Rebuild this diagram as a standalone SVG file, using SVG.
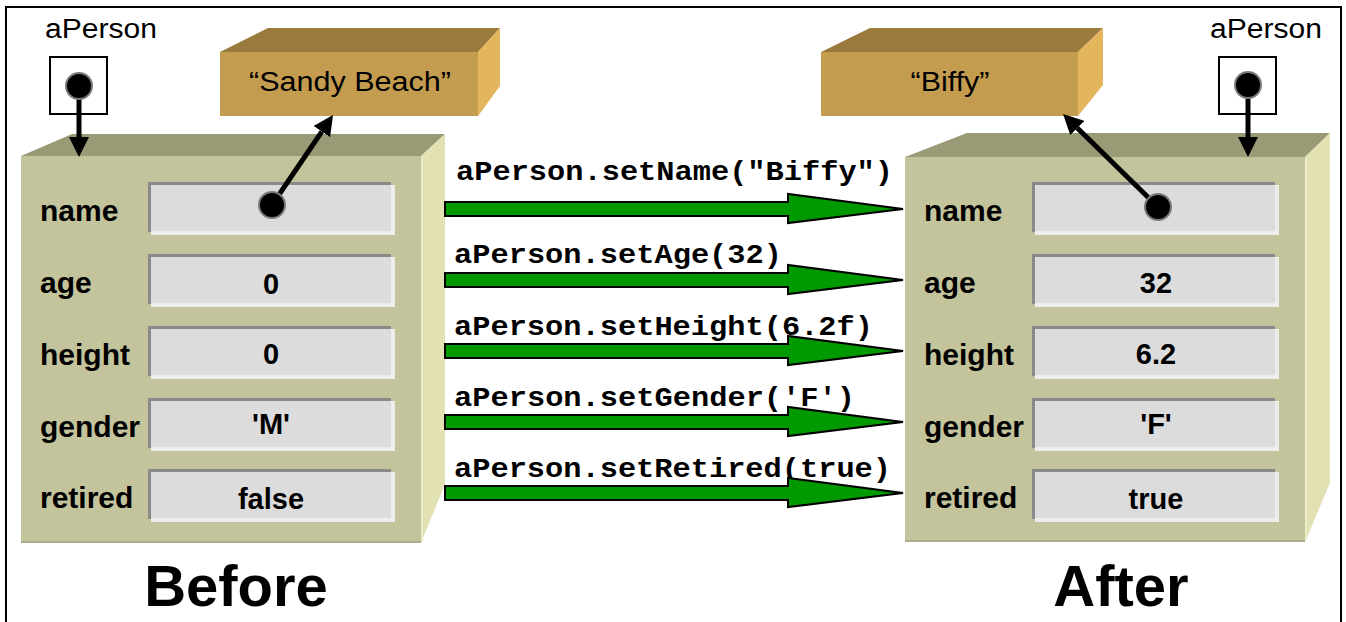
<svg xmlns="http://www.w3.org/2000/svg" width="1346" height="622" viewBox="0 0 1346 622">
<style>
.front{fill:#C3C39C}
.top{fill:#9A9A77}
.side{fill:#E1E1B4}
.tfront{fill:#C49C4F}
.ttop{fill:#9B7A3D}
.tside{fill:#E3B55C}
.lbl{font-family:"Liberation Sans",Arial,sans-serif;font-weight:bold;font-size:30px;fill:#000}
.val{font-family:"Liberation Sans",Arial,sans-serif;font-weight:bold;font-size:29px;fill:#000;text-anchor:middle}
.plain{font-family:"Liberation Sans",Arial,sans-serif;font-size:27px;fill:#000}
.code{font-family:"Liberation Mono","Courier New",monospace;font-weight:bold;font-size:28px;fill:#000}
.big{font-family:"Liberation Sans",Arial,sans-serif;font-weight:bold;font-size:58px;fill:#000;text-anchor:middle}
.vb1{fill:#8A8A8A}
.vb2{fill:#EDEDED}
.vb3{fill:#DCDCDC}
.ptr{stroke:#000;stroke-width:5;fill:none}
.dot{fill:#000;stroke:#7a7a7a;stroke-width:2}
.garrow{fill:#009900;stroke:#000;stroke-width:2;stroke-linejoin:miter}
</style>
<defs>
<marker id="ah" viewBox="0 0 20 20" refX="0" refY="10" markerWidth="20" markerHeight="20" markerUnits="userSpaceOnUse" orient="auto">
<path d="M0,0 L20,10 L0,20 z" fill="#000"/>
</marker>
<g id="vbox">
<rect class="vb1" x="0" y="0" width="243" height="50"/>
<rect class="vb2" x="3" y="3" width="244" height="50"/>
<rect class="vb3" x="3" y="3" width="240" height="46"/>
</g>
</defs>
<rect x="6" y="7" width="1335" height="620" fill="#fff" stroke="#000" stroke-width="2"/>

<g id="before-object">
<polygon class="top" points="21,156 72,134 445,134 421,156"/>
<polygon class="side" points="421,156 445,134 445,484 421,543"/>
<rect class="front" x="21" y="156" width="400" height="387"/>
<line x1="21" y1="542" x2="421" y2="542" stroke="#ADAD8B" stroke-width="2"/>
<line x1="422" y1="157" x2="422" y2="541" stroke="#ECECC6" stroke-width="2"/>
<use href="#vbox" x="148" y="182"/>
<use href="#vbox" x="148" y="254"/>
<use href="#vbox" x="148" y="326"/>
<use href="#vbox" x="148" y="398"/>
<use href="#vbox" x="148" y="469"/>
<text class="lbl" x="40" y="221">name</text>
<text class="lbl" x="40" y="293">age</text>
<text class="lbl" x="40" y="365">height</text>
<text class="lbl" x="40" y="437">gender</text>
<text class="lbl" x="40" y="508">retired</text>
<text class="val" x="271" y="294">0</text>
<text class="val" x="271" y="364">0</text>
<text class="val" x="271" y="434">'M'</text>
<text class="val" x="271" y="509">false</text>
</g>

<g id="after-object">
<polygon class="top" points="905,157 967,133 1330,133 1305,157"/>
<polygon class="side" points="1305,157 1330,133 1330,483 1305,542"/>
<rect class="front" x="905" y="157" width="400" height="385"/>
<line x1="905" y1="541" x2="1305" y2="541" stroke="#ADAD8B" stroke-width="2"/>
<line x1="1306" y1="158" x2="1306" y2="540" stroke="#ECECC6" stroke-width="2"/>
<use href="#vbox" x="1032" y="182"/>
<use href="#vbox" x="1032" y="254"/>
<use href="#vbox" x="1032" y="326"/>
<use href="#vbox" x="1032" y="398"/>
<use href="#vbox" x="1032" y="469"/>
<text class="lbl" x="924" y="221">name</text>
<text class="lbl" x="924" y="293">age</text>
<text class="lbl" x="924" y="365">height</text>
<text class="lbl" x="924" y="437">gender</text>
<text class="lbl" x="924" y="508">retired</text>
<text class="val" x="1156" y="293">32</text>
<text class="val" x="1156" y="364">6.2</text>
<text class="val" x="1156" y="434">'F'</text>
<text class="val" x="1156" y="509">true</text>
</g>

<g id="string-sandy">
<polygon class="ttop" points="220,52 268,28 500,28 478,52"/>
<polygon class="tside" points="478,52 500,28 500,86 478,116"/>
<rect class="tfront" x="220" y="52" width="258" height="64"/>
<text class="plain" x="350" y="91" text-anchor="middle" font-size="29" textLength="202" lengthAdjust="spacingAndGlyphs">“Sandy Beach”</text>
</g>

<g id="string-biffy">
<polygon class="ttop" points="821,52 870,28 1103,28 1078,52"/>
<polygon class="tside" points="1078,52 1103,28 1103,85 1078,116"/>
<rect class="tfront" x="821" y="52" width="257" height="64"/>
<text class="plain" x="950" y="91" text-anchor="middle" font-size="29" textLength="79" lengthAdjust="spacingAndGlyphs">“Biffy”</text>
</g>

<g id="ref-left">
<text class="plain" x="45" y="38" textLength="112" lengthAdjust="spacingAndGlyphs">aPerson</text>
<rect x="50" y="57" width="57" height="57" fill="#fff" stroke="#000" stroke-width="2"/>
</g>

<g id="ref-right">
<text class="plain" x="1210" y="38" textLength="112" lengthAdjust="spacingAndGlyphs">aPerson</text>
<rect x="1219" y="57" width="57" height="57" fill="#fff" stroke="#000" stroke-width="2"/>
</g>

<g id="labels">
<text class="code" x="456" y="180" textLength="437" lengthAdjust="spacingAndGlyphs">aPerson.setName("Biffy")</text>
<text class="code" x="454" y="263" textLength="328" lengthAdjust="spacingAndGlyphs">aPerson.setAge(32)</text>
<text class="code" x="454" y="335" textLength="419" lengthAdjust="spacingAndGlyphs">aPerson.setHeight(6.2f)</text>
<text class="code" x="454" y="406" textLength="401" lengthAdjust="spacingAndGlyphs">aPerson.setGender('F')</text>
<text class="code" x="454" y="477" textLength="437" lengthAdjust="spacingAndGlyphs">aPerson.setRetired(true)</text>
</g>

<g id="connectors">
<path class="garrow" d="M445,202 H788 V194 L903,209 L788,223 V216 H445 Z"/>
<path class="garrow" d="M445,273 H788 V265 L903,280 L788,294 V287 H445 Z"/>
<path class="garrow" d="M445,344 H788 V336 L903,351 L788,365 V358 H445 Z"/>
<path class="garrow" d="M445,415 H788 V407 L903,422 L788,436 V429 H445 Z"/>
<path class="garrow" d="M445,486 H788 V478 L903,493 L788,507 V500 H445 Z"/>
<line class="ptr" x1="79" y1="86" x2="79" y2="137" marker-end="url(#ah)"/>
<circle class="dot" cx="79" cy="86" r="13"/>
<line class="ptr" x1="1248" y1="85" x2="1248" y2="137" marker-end="url(#ah)"/>
<circle class="dot" cx="1248" cy="85" r="13"/>
<line class="ptr" x1="272" y1="205" x2="321.8" y2="131.6" marker-end="url(#ah)"/>
<circle class="dot" cx="272" cy="205" r="13"/>
<line class="ptr" x1="1158" y1="207" x2="1077.3" y2="128" marker-end="url(#ah)"/>
<circle class="dot" cx="1158" cy="207" r="13"/>
</g>

<g id="captions">
<text class="big" x="236" y="606">Before</text>
<text class="big" x="1121" y="606">After</text>
</g>
</svg>
